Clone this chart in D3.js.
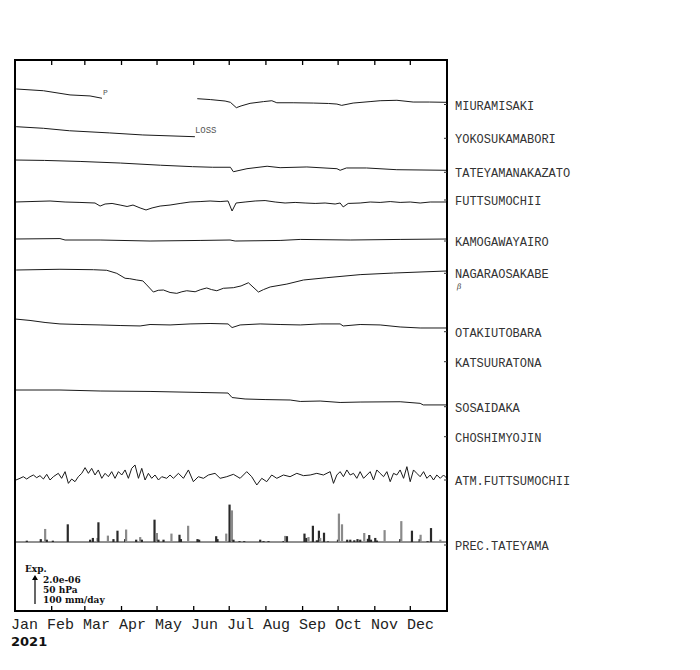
<!DOCTYPE html>
<html><head><meta charset="utf-8">
<script src="https://cdn.jsdelivr.net/npm/d3@7"></script>
<style>body{margin:0;background:#fff}</style>
</head><body>
<svg id="chart" width="700" height="670"></svg>
<script>
// ---------------- DATA ----------------
const year = "2021";
const months = ["Jan","Feb","Mar","Apr","May","Jun","Jul","Aug","Sep","Oct","Nov","Dec"];
const monthStartDays = [0,31,59,90,120,151,181,212,243,273,304,334,365];
const stationNames = ["MIURAMISAKI","YOKOSUKAMABORI","TATEYAMANAKAZATO","FUTTSUMOCHII","KAMOGAWAYAIRO","NAGARAOSAKABE","OTAKIUTOBARA","KATSUURATONA","SOSAIDAKA","CHOSHIMYOJIN","ATM.FUTTSUMOCHII","PREC.TATEYAMA"];
const legendLines = ["2.0e-06","50 hPa","100 mm/day"];
const legendStrain = 2.0;   // x1e-6
const legendPressure = 50;  // hPa
const legendPrecip = 100;   // mm/day

// strain series: [day of year, strain x1e-6 (relative)], null = gap
const miuramisaki = [[1,0.07],[24,-0.05],[46.5,-0.34],[63.4,-0.41],[73.5,-0.57],null,
 [154,-0.60],[165,-0.66],[177.5,-0.76],[182,-0.85],[187,-1.22],[191,-1.10],[198.6,-0.92],[210,-0.80],[217,-0.74],[221.2,-0.88],[235,-0.88],[252,-0.90],[265,-0.93],[272,-0.97],[276,-1.06],[285.7,-0.90],[300,-0.80],[308.5,-0.74],[322.7,-0.71],[336.4,-0.83],[350,-0.83],[365,-0.85]];
const yokosukamabori = [[1,0],[24,-0.11],[46,-0.28],[80,-0.43],[108,-0.57],[152,-0.69]];
const tateyamanakazato = [[0,0],[25,-0.03],[55,-0.10],[89,-0.21],[123,-0.36],[150,-0.46],[167,-0.50],[182,-0.50],[184.5,-0.81],[196,-0.60],[213,-0.43],[224,-0.53],[246.6,-0.48],[272,-0.60],[274.7,-0.71],[280,-0.55],[297,-0.55],[322.6,-0.67],[365,-0.71]];
const futtsumochii = [[0,0],[12.7,0.03],[29.6,0.07],[42.3,0],[54.9,-0.03],[67.6,-0.07],[71.9,-0.28],[76.1,-0.14],[82,-0.10],[88.8,-0.21],[94.7,-0.31],[99.7,-0.21],[105.7,-0.41],[110.7,-0.55],[115.8,-0.41],[122.6,-0.28],[131,-0.21],[139.5,-0.10],[147.9,0],[156.4,0.03],[164.8,0.07],[173.3,0.03],[180,0.07],[183.4,-0.62],[186.8,-0.07],[194.4,0],[202.9,0.07],[211.3,0.10],[219.8,0],[228.2,-0.07],[236.7,-0.03],[245.1,-0.07],[253.6,-0.10],[262,-0.07],[270.5,-0.14],[274.7,-0.07],[277.3,-0.34],[281.5,-0.10],[291.6,-0.07],[300.1,0],[308.5,-0.03],[317,0.03],[325.4,-0.03],[333.9,0],[342.3,-0.07],[350.8,0],[365,0]];
const kamogawayairo = [[0,0],[38,0.03],[42.3,-0.07],[71.9,-0.07],[114.1,-0.14],[156.4,-0.10],[181.7,-0.07],[186,-0.14],[224,-0.10],[241,-0.03],[283.2,-0.07],[325.4,-0.03],[365,0]];
const nagaraosakabe = [[1,0],[38,0.05],[66.2,0.02],[77.5,-0.02],[86,-0.23],[93,-0.57],[97,-0.60],[102.9,-0.69],[108,-0.75],[111.3,-1.03],[116.9,-1.52],[121,-1.40],[125.4,-1.38],[131,-1.55],[136.7,-1.61],[141,-1.50],[145.1,-1.43],[152.2,-1.50],[157,-1.35],[162,-1.24],[166,-1.35],[170.5,-1.43],[176.1,-1.26],[184.5,-1.22],[191,-1.10],[197.2,-0.88],[205.7,-1.52],[210,-1.35],[215.6,-1.17],[229.7,-0.97],[243.7,-0.69],[263.5,-0.53],[291.6,-0.32],[319.8,-0.21],[364.3,-0.07]];
const otakiutobara = [[0,0],[12.7,-0.10],[25.4,-0.24],[38,-0.34],[55,-0.38],[71.9,-0.41],[88.8,-0.45],[105.7,-0.48],[114.1,-0.38],[131,-0.41],[147.9,-0.34],[164.8,-0.31],[180,-0.34],[183.4,-0.59],[190.2,-0.41],[207.1,-0.34],[224,-0.38],[241,-0.41],[257.8,-0.34],[274.7,-0.34],[277.3,-0.48],[291.6,-0.38],[308.5,-0.41],[325.4,-0.55],[342.3,-0.62],[365,-0.62]];
const katsuuratona = [];
const sosaidaka = [[0,0],[38,0],[71.9,-0.07],[114.1,-0.10],[156.4,-0.17],[180,-0.21],[183.4,-0.52],[194.4,-0.62],[211.3,-0.66],[232.5,-0.69],[241,-0.79],[257.8,-0.76],[274.7,-0.86],[291.6,-0.83],[325.4,-0.81],[342.3,-0.92],[344.9,-1.03],[365,-1.03]];
const choshimyojin = [];
// atmospheric pressure anomaly, hPa
const atmFuttsumochii = [[0.8,-6.9],[4.2,-4.0],[7.0,-1.2],[9.9,-5.2],[12.7,-1.2],[15.5,1.7],[18.3,-2.9],[21.1,0.6],[24,-5.2],[26.8,2.9],[29.6,-6.9],[32.4,-1.2],[36.6,4.6],[39.4,-4.0],[42.3,7.5],[45.1,-12.7],[47.9,-5.2],[50.7,-9.8],[53.5,-1.2],[56.4,4.6],[59.2,14.4],[62,4.6],[64.8,13.2],[67.6,1.7],[70.4,10.4],[73.3,-4.0],[76.1,4.6],[78.9,-1.2],[81.7,7.5],[84.5,-4.0],[87.4,7.5],[90.2,1.7],[93,10.4],[95.8,-4.0],[98.6,13.2],[101.4,19.0],[104.3,-4.0],[107.1,13.2],[109.9,-6.9],[112.7,4.6],[115.5,-4.0],[118.3,1.7],[121.2,-6.9],[124,-1.2],[128.2,-4.0],[131,1.7],[133.8,-4.0],[138.1,4.6],[142.3,-4.0],[146.5,10.4],[150.7,-9.8],[154.9,-1.2],[159.2,-4.0],[163.4,1.7],[169,4.6],[173.3,-4.0],[178.9,-1.2],[184.5,2.9],[190.2,-4.0],[195.8,7.5],[200,-1.2],[204.3,-15.5],[208.5,-4.0],[212.7,-9.8],[216.9,1.7],[221.2,-4.0],[226.8,1.7],[232.4,-1.2],[238.1,4.6],[243.7,0.6],[249.4,1.7],[255,4.6],[260.6,1.7],[266.3,7.5],[269.1,-12.7],[271.9,1.7],[274.7,7.5],[277.5,-1.2],[280.4,10.4],[283.2,1.7],[286,4.6],[288.8,-4.0],[291.6,7.5],[294.5,-4.0],[297.3,1.7],[300.1,7.5],[302.9,-6.9],[305.7,10.4],[308.5,4.6],[311.4,-1.2],[314.2,7.5],[317,-9.8],[319.8,4.6],[322.6,1.7],[325.4,10.4],[328.3,-4.0],[331.1,16.1],[333.9,-9.8],[336.7,10.4],[339.5,4.6],[342.3,-1.2],[345.2,7.5],[348,-4.0],[350.8,1.7],[353.6,-6.9],[356.4,1.7],[359.3,-4.0],[362.1,1.7],[364.9,-4.0]];
// precipitation: [day, mm/day, group(0 dark / 1 light)]
const precTateyama = [[9.9,4.6,0],[21.7,10,0],[25.4,45,1],[26.8,8,0],[31.9,4.6,0],[44.5,61,0],[63.4,8,0],[65.7,14,0],[69.6,14,1],[70.4,68,0],[78.4,22,1],[83.1,10,0],[86.5,39,0],[93,10,0],[93.8,43,1],[102.3,8,0],[105.7,17,1],[107.1,8,0],[117.8,77,0],[119.8,31,1],[121.1,8,0],[125.4,8,0],[132.1,29,1],[138.9,25,0],[140.1,10,0],[146.2,56,1],[154.1,10,0],[155.5,8,0],[169.9,20,0],[171,10,0],[178.4,29,1],[181.2,129,0],[183.2,109,1],[184.5,8,0],[189.6,3,0],[193.6,3,0],[207.1,8,0],[209.9,3,0],[214.1,3,0],[226.8,3,0],[228.2,21,1],[229.7,20,0],[244.5,29,0],[246,14,0],[247.9,17,1],[251.6,56,0],[255,6,0],[256.7,39,0],[257.8,14,1],[261,32,0],[264.3,2,0],[272.8,8,0],[273.6,98,1],[276.2,61,1],[280.6,8,0],[283.2,8,0],[286.6,6,0],[289.3,10,0],[291.6,8,0],[295,31,1],[298.1,11,0],[299.2,24,0],[300.7,8,0],[304.3,14,0],[305.7,5,0],[312.2,41,1],[325.4,10,0],[326.3,72,1],[335.3,39,0],[341.8,10,0],[342.6,25,1],[348.5,3,0],[351.4,48,0],[359.3,8,1]];

// ---------------- LAYOUT ----------------
const L = {left:15, right:447, top:60, bottom:611};
const rowZero = {MIURAMISAKI:90, YOKOSUKAMABORI:126.7, TATEYAMANAKAZATO:160, FUTTSUMOCHII:202, KAMOGAWAYAIRO:239, NAGARAOSAKABE:270, OTAKIUTOBARA:319, SOSAIDAKA:390, ATM:476, PREC:542};
const labelBaselines = [109.5,143.3,177.3,205,246,278.3,336.7,366.7,411.7,441.7,485,550];

const svg = d3.select("#chart");
const x = d3.scaleLinear().domain([0,365]).range([L.left, L.right]);
const strainY = d3.scaleLinear().domain([0, legendStrain]).range([0, -29]);
const presY = d3.scaleLinear().domain([0, legendPressure]).range([0, -29]);
const precH = d3.scaleLinear().domain([0, legendPrecip]).range([0, 29]);
const monthBand = d3.scaleBand().domain(months).range([L.left, L.right]);

function drawLine(data, zero, yfun){
  const line = d3.line().defined(d => d !== null).x(d => x(d[0])).y(d => zero + yfun(d[1]));
  svg.append("path").datum(data).attr("d", line).attr("fill","none")
    .attr("stroke","#1a1a1a").attr("stroke-width",1).attr("stroke-linejoin","round");
}
drawLine(miuramisaki, rowZero.MIURAMISAKI, strainY);
drawLine(yokosukamabori, rowZero.YOKOSUKAMABORI, strainY);
drawLine(tateyamanakazato, rowZero.TATEYAMANAKAZATO, strainY);
drawLine(futtsumochii, rowZero.FUTTSUMOCHII, strainY);
drawLine(kamogawayairo, rowZero.KAMOGAWAYAIRO, strainY);
drawLine(nagaraosakabe, rowZero.NAGARAOSAKABE, strainY);
drawLine(otakiutobara, rowZero.OTAKIUTOBARA, strainY);
drawLine(sosaidaka, rowZero.SOSAIDAKA, strainY);
drawLine(atmFuttsumochii, rowZero.ATM, presY);

// precipitation baseline and bars
svg.append("line").attr("x1",L.left).attr("x2",L.right).attr("y1",rowZero.PREC).attr("y2",rowZero.PREC)
  .attr("stroke","#222").attr("stroke-width",1);
svg.selectAll("rect.prec").data(precTateyama).join("rect").attr("class","prec")
  .attr("x", d => x(d[0]) - 1).attr("width", 2.2)
  .attr("y", d => rowZero.PREC - precH(d[1])).attr("height", d => precH(d[1]))
  .attr("fill", d => d[2] ? "#8a8a8a" : "#2a2a2a");

// gap annotations
svg.append("text").attr("x", x(73.5)+1).attr("y", 95).text("P")
  .attr("font-family","Liberation Mono, monospace").attr("font-size",8).attr("fill","#555");
svg.append("text").attr("x", x(152)).attr("y", 133).text("LOSS")
  .attr("font-family","Liberation Mono, monospace").attr("font-size",9).attr("fill","#555");

// frame
svg.append("rect").attr("x",L.left).attr("y",L.top).attr("width",L.right-L.left).attr("height",L.bottom-L.top)
  .attr("fill","none").attr("stroke","#000").attr("stroke-width",2);

// month ticks top & bottom
const tickDays = monthStartDays.slice(1,12);
svg.selectAll("line.tt").data(tickDays).join("line").attr("class","tt")
  .attr("x1",d=>x(d)).attr("x2",d=>x(d)).attr("y1",L.top).attr("y2",L.top+5).attr("stroke","#000").attr("stroke-width",1.3);
svg.selectAll("line.tb").data(tickDays).join("line").attr("class","tb")
  .attr("x1",d=>x(d)).attr("x2",d=>x(d)).attr("y1",L.bottom).attr("y2",L.bottom-5).attr("stroke","#000").attr("stroke-width",1.3);

// month labels
svg.selectAll("text.mon").data(months).join("text").attr("class","mon")
  .attr("x", d => monthBand(d) - 4).attr("y", 628.5).text(d => d)
  .attr("font-family","Liberation Mono, monospace").attr("font-size",15).attr("fill","#222");
svg.append("text").attr("x",11).attr("y",646).text(year)
  .attr("font-family","DejaVu Sans, sans-serif").attr("font-weight","bold").attr("font-size",13).attr("fill","#111");

// station labels & right ticks
svg.selectAll("text.st").data(stationNames).join("text").attr("class","st")
  .attr("x", 455).attr("y", (d,i) => labelBaselines[i]).text(d => d)
  .attr("font-family","Liberation Mono, monospace").attr("font-size",12).attr("fill","#333");
svg.selectAll("line.rt").data(stationNames).join("line").attr("class","rt")
  .attr("x1", L.right-3).attr("x2", L.right).attr("y1",(d,i)=>labelBaselines[i]-5).attr("y2",(d,i)=>labelBaselines[i]-5)
  .attr("stroke","#333").attr("stroke-width",1);
svg.append("text").attr("x",457).attr("y",288.5).text("β")
  .attr("font-family","DejaVu Serif, serif").attr("font-style","italic").attr("font-size",7.5).attr("fill","#444");

// legend
const lg = svg.append("g").attr("font-family","DejaVu Serif, serif").attr("font-weight","bold").attr("font-size",9).attr("fill","#111");
lg.append("text").attr("x",25).attr("y",572).text("Exp.");
const arrowBottom = 604;
const arrowTop = arrowBottom + strainY(legendStrain);
svg.append("line").attr("x1",35).attr("x2",35).attr("y1",arrowBottom).attr("y2",arrowTop+3).attr("stroke","#000").attr("stroke-width",1.2);
svg.append("path").attr("d",`M32,${arrowTop+5} L35,${arrowTop} L38,${arrowTop+5} Z`).attr("fill","#000");
lg.selectAll("text.lgl").data(legendLines).join("text").attr("class","lgl")
  .attr("x",43).attr("y",(d,i)=>582.5 + i*10).text(d=>d);
</script>
</body></html>
